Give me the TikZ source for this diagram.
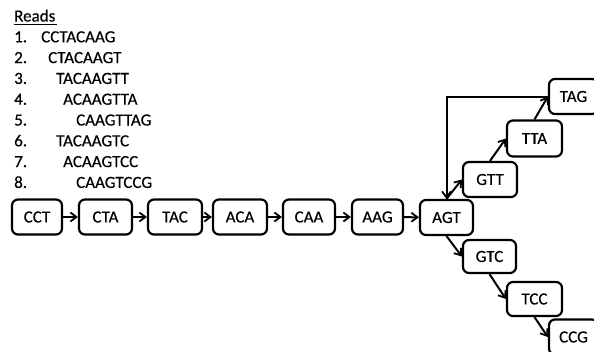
\documentclass[tikz,border=0pt]{standalone}
\usepackage{fontspec}
\setmainfont{Carlito}[FakeBold=0.4]
\usetikzlibrary{arrows.meta}
\begin{document}
\begin{tikzpicture}[x=1pt,y=-1pt,
  kmer/.style={draw=black,line width=2.2pt,rounded corners=6pt,minimum height=35pt,inner sep=0pt,font=\fontsize{17}{20}\selectfont},
  txt/.style={anchor=base west,inner sep=0pt,font=\fontsize{17}{20}\selectfont},
  conn/.style={line width=2pt,-{Straight Barb[length=6pt,width=9pt,line width=1.8pt]}}]
\useasboundingbox (0,0) rectangle (594,351);
\begin{scope}
\clip (0,0) rectangle (594,351);
% reads
\node[txt] (rh) at (14,21.5) {Reads};
\draw[line width=1.2pt] (14,24.5) -- (57,24.5);
\foreach \n/\s/\x [count=\i from 1] in {1/CCTACAAG/41,2/CTACAAGT/48,3/TACAAGTT/56,4/ACAAGTTA/63,5/CAAGTTAG/76,6/TACAAGTC/56,7/ACAAGTCC/63,8/CAAGTCCG/76}{
  \node[txt] (n\i) at (14,{21.5+20.8*\i}) {\n.};
  \node[txt] (s\i) at (\x,{21.5+20.8*\i}) {\s};
}
% main chain
\node[kmer,minimum width=50pt] (cct) at (37,217) {CCT};
\node[kmer,minimum width=53pt] (cta) at (105.5,217) {CTA};
\node[kmer,minimum width=54pt] (tac) at (175,217) {TAC};
\node[kmer,minimum width=54pt] (aca) at (240,217) {ACA};
\node[kmer,minimum width=52pt] (caa) at (309,217) {CAA};
\node[kmer,minimum width=51pt] (aag) at (377.5,217) {AAG};
\node[kmer,minimum width=53pt] (agt) at (446.5,217.5) {AGT};
% upper branch
\node[kmer,minimum width=54pt] (gtt) at (490,179.5) {GTT};
\node[kmer,minimum width=55pt,minimum height=36pt] (tta) at (534.5,138.5) {TTA};
\node[kmer,minimum width=49pt] (tag) at (573.5,96.5) {TAG};
% lower branch
\node[kmer,minimum width=53pt,minimum height=33pt] (gtc) at (489.5,256.5) {GTC};
\node[kmer,minimum width=55pt,minimum height=34pt] (tcc) at (534.5,299) {TCC};
\node[kmer,minimum width=49pt] (ccg) at (573.5,337) {CCG};
% connectors
\draw[conn] (cct) -- (cta);
\draw[conn] (cta) -- (tac);
\draw[conn] (tac) -- (aca);
\draw[conn] (aca) -- (caa);
\draw[conn] (caa) -- (aag);
\draw[conn] (aag) -- (agt);
\draw[conn] (agt.north) -- (gtt.west);
\draw[conn] (gtt.north) -- (tta.west);
\draw[conn] (tta.north) -- (tag.west);
\draw[conn] (tag.west) -- (agt.north |- tag.west) -- (agt.north);
\draw[conn] (agt.south) -- (gtc.west);
\draw[conn] (gtc.south) -- (tcc.west);
\draw[conn] (tcc.south) -- (ccg.west);
\end{scope}
\end{tikzpicture}
\end{document}
